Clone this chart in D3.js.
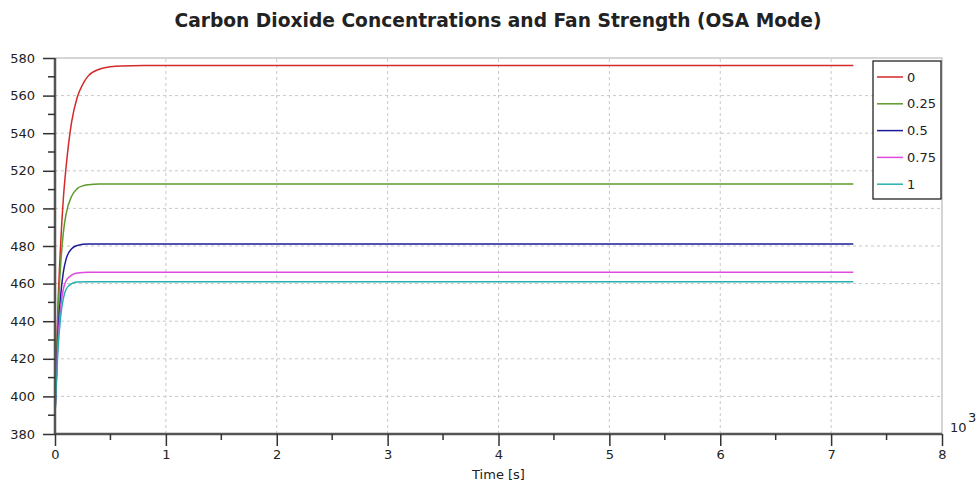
<!DOCTYPE html>
<html>
<head>
<meta charset="utf-8">
<script src="https://cdn.jsdelivr.net/npm/d3@7"></script>
<style>
  body { margin: 0; background: #fff; }
  text { font-family: Verdana, "DejaVu Sans", sans-serif; fill: #222; }
  .grid line { stroke: #c8c8c8; stroke-dasharray: 3,3; }
</style>
</head>
<body>
<script>
var width = 977, height = 484;

// time in units of 10^3 s
var series = ["0", "0.25", "0.5", "0.75", "1"];
var colors = ["#d42a2a", "#5e9a2c", "#1c1c9a", "#e04ae0", "#26b0b0"];

var t0    = [0, 0.025, 0.05, 0.075, 0.1, 0.15, 0.2, 0.25, 0.3, 0.4, 0.5, 0.6, 0.8, 7.2];
var fan0  = [390, 445, 480, 505, 522, 546, 559, 566, 570.5, 574, 575.3, 575.8, 576, 576];
var t1    = [0, 0.025, 0.05, 0.075, 0.1, 0.15, 0.2, 0.25, 0.3, 0.4, 7.2];
var fan25 = [390, 440, 469, 487, 497, 506.5, 510.5, 512, 512.6, 513, 513];
var t2    = [0, 0.025, 0.05, 0.075, 0.1, 0.15, 0.2, 0.3, 7.2];
var fan50 = [390, 431, 453, 466, 473, 478.5, 480.3, 481, 481];
var fan75 = [390, 427, 447, 457, 461.5, 464.5, 465.6, 466, 466];
var fan100 = [390, 423, 442, 452, 457, 460, 460.8, 461, 461];

var lines = [
  {t: t0, v: fan0},
  {t: t1, v: fan25},
  {t: t2, v: fan50},
  {t: t2, v: fan75},
  {t: t2, v: fan100}
];

var yTicks = [380, 400, 420, 440, 460, 480, 500, 520, 540, 560, 580];
var xTicks = [0, 1, 2, 3, 4, 5, 6, 7, 8];

var svg = d3.select("body").append("svg")
  .attr("width", width)
  .attr("height", height);

var x = d3.scaleLinear().domain([0, 8]).range([55, 942]);
var y = d3.scaleLinear().domain([380, 580]).range([434, 58]);

// grid
svg.append("g").attr("class", "grid")
  .selectAll("line").data(yTicks.slice(1, -1)).enter().append("line")
  .attr("x1", x(0)).attr("x2", x(8))
  .attr("y1", d => y(d)).attr("y2", d => y(d));
svg.append("g").attr("class", "grid")
  .selectAll("line").data(xTicks.slice(1, -1)).enter().append("line")
  .attr("y1", y(380)).attr("y2", y(580))
  .attr("x1", d => x(d)).attr("x2", d => x(d));

// frame top / right
svg.append("path")
  .attr("d", "M" + x(0) + "," + y(580) + "H" + x(8) + "V" + y(380))
  .attr("fill", "none").attr("stroke", "#c8c8c8").attr("stroke-width", 1.5);

// lines
var line = d3.line()
  .x(d => x(d[0])).y(d => y(d[1]))
  .curve(d3.curveMonotoneX);

svg.append("g").selectAll("path").data(lines).enter().append("path")
  .attr("d", d => line(d.t.map((tt, i) => [tt, d.v[i]])))
  .attr("fill", "none")
  .attr("stroke", (d, i) => colors[i])
  .attr("stroke-width", 1.5);

// y axis
var yAxis = d3.axisLeft(y).tickValues(yTicks).tickSize(12).tickPadding(8);
var gy = svg.append("g").attr("transform", "translate(" + x(0) + ",0)").call(yAxis);
gy.selectAll(".tick text").style("font-size", "13px");
gy.selectAll(".tick line").attr("stroke", "#333").attr("stroke-width", 1.5);
gy.select(".domain").attr("stroke", "#555").attr("stroke-width", 2.5).attr("d", "M0," + y(380) + "V" + y(580));
var yMinor = d3.range(390, 580, 20);
gy.selectAll(".minor").data(yMinor).enter().append("line")
  .attr("x1", -7).attr("x2", 0)
  .attr("y1", d => y(d)).attr("y2", d => y(d))
  .attr("stroke", "#333").attr("stroke-width", 1.5);

// x axis
var xAxis = d3.axisBottom(x).tickValues(xTicks).tickSize(12).tickPadding(4);
var gx = svg.append("g").attr("transform", "translate(0," + y(380) + ")").call(xAxis);
gx.selectAll(".tick text").style("font-size", "13px");
gx.selectAll(".tick line").attr("stroke", "#333").attr("stroke-width", 1.5);
gx.select(".domain").attr("stroke", "#555").attr("stroke-width", 2.5).attr("d", "M" + x(0) + ",0H" + x(8));
var xMinor = d3.range(0.5, 8, 1);
gx.selectAll(".minor").data(xMinor).enter().append("line")
  .attr("y1", 0).attr("y2", 6)
  .attr("x1", d => x(d)).attr("x2", d => x(d))
  .attr("stroke", "#333").attr("stroke-width", 1.5);

// axis label and exponent
svg.append("text").attr("x", x(4)).attr("y", 479)
  .attr("text-anchor", "middle").style("font-size", "13px").text("Time [s]");
svg.append("text").attr("x", 950).attr("y", 432)
  .style("font-size", "13px").text("10");
svg.append("text").attr("x", 968).attr("y", 422)
  .style("font-size", "13px").text("3");

// title
svg.append("text").attr("x", 498).attr("y", 27)
  .attr("text-anchor", "middle")
  .style("font-size", "19px").style("font-weight", "bold")
  .attr("textLength", 647).attr("lengthAdjust", "spacingAndGlyphs")
  .text("Carbon Dioxide Concentrations and Fan Strength (OSA Mode)");

// legend
var legend = svg.append("g").attr("transform", "translate(873,61)");
legend.append("rect").attr("width", 68).attr("height", 138)
  .attr("fill", "#fff").attr("stroke", "#111").attr("stroke-width", 1.2);
var item = legend.selectAll(".item").data(series).enter().append("g")
  .attr("transform", (d, i) => "translate(0," + (16 + i * 26.8) + ")");
item.append("line").attr("x1", 4).attr("x2", 30)
  .attr("stroke", (d, i) => colors[i]).attr("stroke-width", 1.5);
item.append("text").attr("x", 34).attr("dy", "0.35em")
  .style("font-size", "13px").text(d => d);
</script>
</body>
</html>
